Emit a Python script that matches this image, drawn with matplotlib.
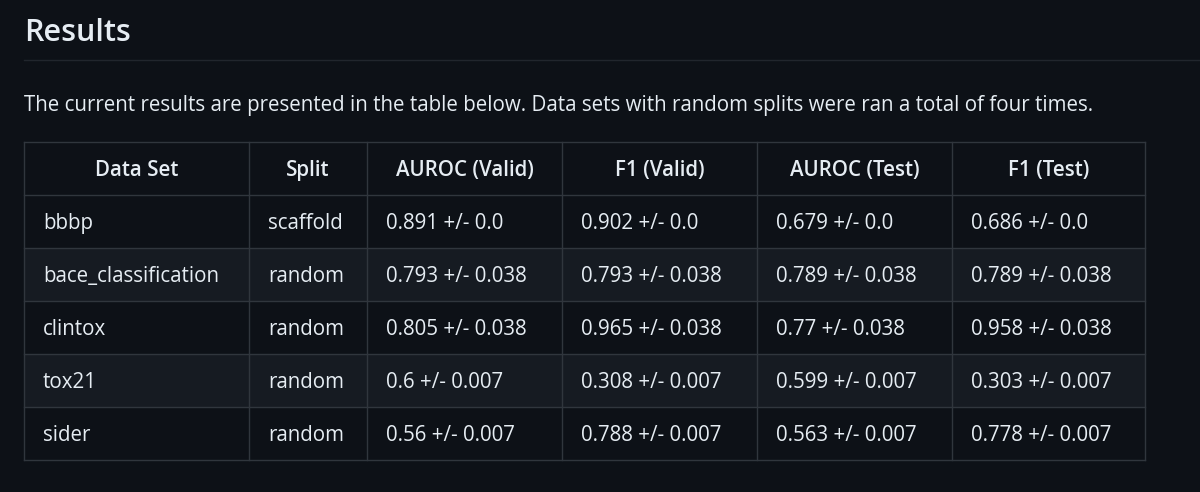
import matplotlib.pyplot as plt
from matplotlib.patches import Rectangle

plt.rcParams['font.family'] = ['Open Sans', 'DejaVu Sans']

# Table content
headers = ['Data Set', 'Split', 'AUROC (Valid)', 'F1 (Valid)', 'AUROC (Test)', 'F1 (Test)']
data_sets = ['bbbp', 'bace_classification', 'clintox', 'tox21', 'sider']
splits = ['scaffold', 'random', 'random', 'random', 'random']
auroc_valid = ['0.891 +/- 0.0', '0.793 +/- 0.038', '0.805 +/- 0.038', '0.6 +/- 0.007', '0.56 +/- 0.007']
f1_valid = ['0.902 +/- 0.0', '0.793 +/- 0.038', '0.965 +/- 0.038', '0.308 +/- 0.007', '0.788 +/- 0.007']
auroc_test = ['0.679 +/- 0.0', '0.789 +/- 0.038', '0.77 +/- 0.038', '0.599 +/- 0.007', '0.563 +/- 0.007']
f1_test = ['0.686 +/- 0.0', '0.789 +/- 0.038', '0.958 +/- 0.038', '0.303 +/- 0.007', '0.778 +/- 0.007']

BG = '#0d1117'
ALT = '#161b22'
BORDER = '#30363d'
TEXT = '#e6edf3'
FS = 14.8

fig = plt.figure(figsize=(12, 4.92), dpi=100, facecolor=BG)
ax = fig.add_axes([0, 0, 1, 1])
ax.set_xlim(0, 1200)
ax.set_ylim(492, 0)
ax.axis('off')
ax.set_facecolor(BG)

ax.text(24, 33, 'Results', fontsize=22, fontweight='semibold', color=TEXT, va='center', ha='left')
ax.plot([24, 1200], [60, 60], color='#21262d', lw=1)
ax.text(24, 105, 'The current results are presented in the table below. Data sets with random splits '
        'were ran a total of four times.', fontsize=FS, color=TEXT, va='center', ha='left')

col_x = [24, 249, 367, 562, 757, 952, 1145]
row_y = [142, 195, 248, 301, 354, 407, 460]

columns = [data_sets, splits, auroc_valid, f1_valid, auroc_test, f1_test]
for r in range(len(data_sets)):
    if r % 2 == 1:
        ax.add_patch(Rectangle((col_x[0], row_y[r + 1]), col_x[-1] - col_x[0],
                               row_y[r + 2] - row_y[r + 1], color=ALT, lw=0))

for x in col_x:
    ax.plot([x, x], [row_y[0], row_y[-1]], color=BORDER, lw=1)
for y in row_y:
    ax.plot([col_x[0], col_x[-1]], [y, y], color=BORDER, lw=1)

for c, h in enumerate(headers):
    ax.text((col_x[c] + col_x[c + 1]) / 2, (row_y[0] + row_y[1]) / 2 + 2, h,
            fontsize=FS, fontweight='semibold', color=TEXT, ha='center', va='center')

for c, col in enumerate(columns):
    for r, val in enumerate(col):
        ax.text(col_x[c] + 19, (row_y[r + 1] + row_y[r + 2]) / 2 + 2, val,
                fontsize=FS, color=TEXT, ha='left', va='center')

fig.savefig('out.png', dpi=100, facecolor=BG)
